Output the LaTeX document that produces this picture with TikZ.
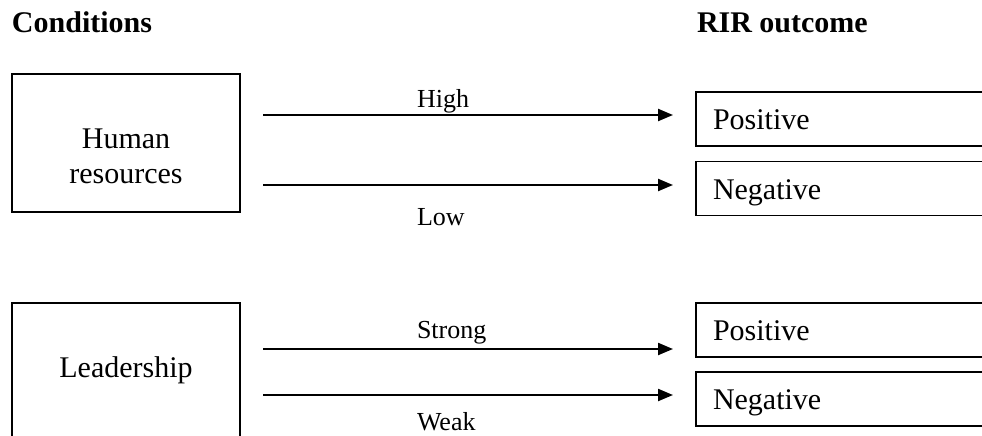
\documentclass[tikz,border=0pt]{standalone}
\usepackage{fontspec}
\setmainfont{Liberation Serif}
\usetikzlibrary{arrows.meta}
\begin{document}
\begin{tikzpicture}[x=1pt,y=-1pt,
  every node/.style={inner sep=0pt,outer sep=0pt},
  title/.style={font=\fontsize{30}{35}\selectfont\bfseries,anchor=base west},
  condbox/.style={draw,line width=1.7pt,minimum width=228pt,minimum height=138pt},
  condtext/.style={font=\fontsize{30}{35}\selectfont,align=center},
  outbox/.style={draw,line width=1.7pt,anchor=west,minimum height=54pt,
    text height=21pt,text depth=0pt,
    text width=280pt,inner xsep=17pt,align=left,font=\fontsize{30}{35}\selectfont},
  lbl/.style={font=\fontsize{26}{30}\selectfont,anchor=west},
  arr/.style={line width=2.2pt,-{Triangle[length=15pt,width=12pt]}}]
\useasboundingbox (0,0) rectangle (982,436);
\clip (0,0) rectangle (982,436);
\fill[white] (0,0) rectangle (982,436);
% titles
\node[title] (tc) at (12,33) {Conditions};
\node[title] (tr) at (697,33) {RIR outcome};
% condition boxes
\node[condbox] (hr) at (126,143) {};
\node[condtext] (hrt) at (126,156) {Human\\resources};
\node[condbox] (ld) at (126,372) {};
\node[condtext] (ldt) at (126,370) {Leadership};
% outcome boxes
\node[outbox] (p1) at (696,119) {Positive};
\node[outbox] (n1) at (696,188.5) {Negative};
\node[outbox] (p2) at (696,330) {Positive};
\node[outbox] (n2) at (696,399) {Negative};
% arrow rows
\coordinate (a1) at (0,115);
\coordinate (a2) at (0,185);
\coordinate (a3) at (0,349);
\coordinate (a4) at (0,395);
\draw[arr] ([xshift=23pt]hr.east |- a1) -- ([xshift=-23pt]p1.west |- a1);
\draw[arr] ([xshift=23pt]hr.east |- a2) -- ([xshift=-23pt]n1.west |- a2);
\draw[arr] ([xshift=23pt]ld.east |- a3) -- ([xshift=-23pt]p2.west |- a3);
\draw[arr] ([xshift=23pt]ld.east |- a4) -- ([xshift=-23pt]n2.west |- a4);
% labels
\node[lbl] (lh) at (417,101) {High};
\node[lbl] (ll) at (417,217) {Low};
\node[lbl] (ls) at (417,333) {Strong};
\node[lbl] (lw) at (417,422) {Weak};
\end{tikzpicture}
\end{document}
